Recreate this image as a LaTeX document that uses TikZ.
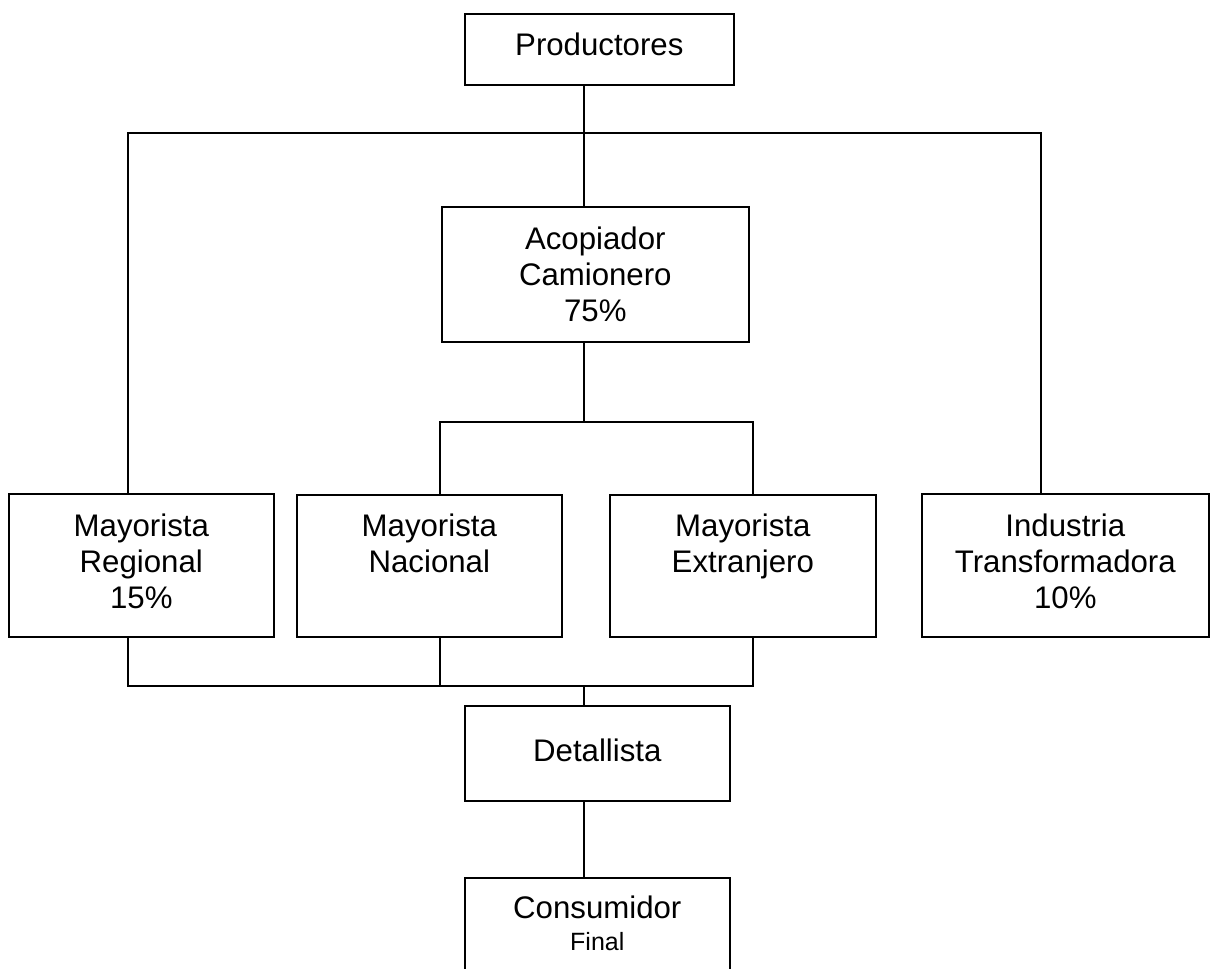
\documentclass[tikz,border=0pt]{standalone}
\usepackage{fontspec}
\setmainfont{Liberation Sans}
\usetikzlibrary{calc}
\newcommand\boxtxt[4][42pt]{\parbox[t][#3][t]{#2}{\centering\rule{0pt}{#1}#4}}
\begin{document}
\begin{tikzpicture}[x=1pt,y=1pt,
  cbox/.style={draw=black, line width=1.6pt, inner sep=0pt, anchor=north west,
    font=\fontsize{31.2pt}{35.9pt}\selectfont},
  conn/.style={draw=black, line width=1.6pt}]
\clip (0,0) rectangle (1211,-969);
\fill[white] (0,0) rectangle (1211,-969);
% boxes
\node[cbox] (prod) at (464,-13) {\boxtxt{269pt}{71pt}{Productores}};
\node[cbox] (acop) at (441,-206) {\boxtxt[43pt]{307pt}{135pt}{Acopiador\\Camionero\\75\%}};
\node[cbox] (reg) at (8,-493) {\boxtxt[43pt]{265pt}{143pt}{Mayorista\\Regional\\15\%}};
\node[cbox] (nac) at (296,-494) {\boxtxt{265pt}{142pt}{Mayorista\\Nacional}};
\node[cbox] (ext) at (609,-494) {\boxtxt{266pt}{142pt}{Mayorista\\Extranjero}};
\node[cbox] (ind) at (921,-493) {\boxtxt[43pt]{287pt}{143pt}{Industria\\Transformadora\\10\%}};
\node[cbox] (det) at (464,-705) {\boxtxt[56pt]{265pt}{95pt}{Detallista}};
\node[cbox] (cons) at (464,-877) {\boxtxt[41pt]{265pt}{120pt}{Consumidor\\[-4pt]{\fontsize{25pt}{28.75pt}\selectfont Final}}};
% connector positions
\coordinate (trunk) at (584,0);
\coordinate (cReg) at (128,0);
\coordinate (cNac) at (440,0);
\coordinate (cExt) at (753,0);
\coordinate (cInd) at (1041,0);
\coordinate (topbar) at (0,-133);
\coordinate (midbar) at (0,-422);
\coordinate (botbar) at (0,-686);
% connectors
\draw[conn] (prod.south -| trunk) -- (acop.north -| trunk);
\draw[conn] (reg.north -| cReg) -- (cReg |- topbar) -- (cInd |- topbar) -- (ind.north -| cInd);
\draw[conn] (acop.south -| trunk) -- (trunk |- midbar);
\draw[conn] (nac.north -| cNac) -- (cNac |- midbar) -- (cExt |- midbar) -- (ext.north -| cExt);
\draw[conn] (reg.south -| cReg) -- (cReg |- botbar) -- (cExt |- botbar) -- (ext.south -| cExt);
\draw[conn] (nac.south -| cNac) -- (cNac |- botbar);
\draw[conn] (trunk |- botbar) -- (det.north -| trunk);
\draw[conn] (det.south -| trunk) -- (cons.north -| trunk);
\end{tikzpicture}
\end{document}
